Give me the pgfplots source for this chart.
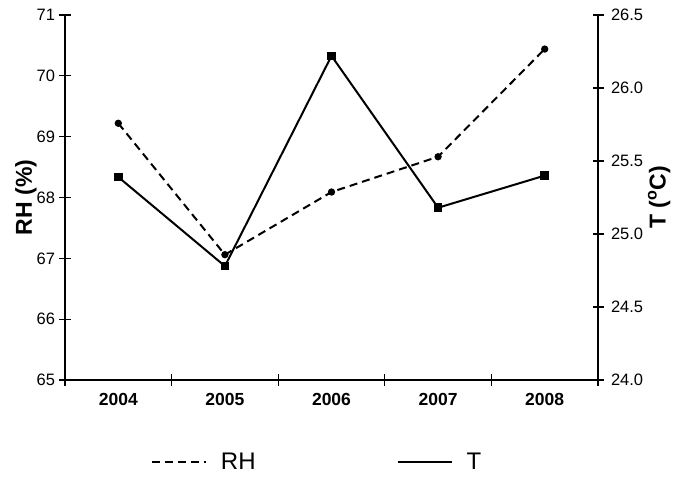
\documentclass[border=0pt]{standalone}
\usepackage{fontspec}
\setmainfont{Liberation Sans}
\usepackage{pgfplots}
\pgfplotsset{compat=1.18}
\usetikzlibrary{calc}
\pgfplotsset{common/.style={
  scale only axis, width=533pt, height=365pt,
  xmin=-0.5, xmax=4.5,
  axis line style={line width=2.2pt},
  tick style={line width=1.3pt, black},
  tick align=center, major tick length=11pt, minor tick length=11pt,
  /pgf/number format/assume math mode=true,
  tick label style={font=\fontsize{16.5}{19}\selectfont},
}}
\begin{document}
\begin{tikzpicture}
\begin{axis}[common,
  axis x line*=bottom, axis y line*=left,
  ymin=65, ymax=71, ytick={65,66,...,71},
  xtick={0,...,4}, xticklabels={2004,2005,2006,2007,2008},
  x tick label style={font=\bfseries\fontsize{17.5}{20}\selectfont, yshift=-4pt},
  y tick label style={xshift=-1pt},
  major x tick style={draw=none},
  minor xtick={-0.5,0.5,1.5,2.5,3.5,4.5},
  ylabel={\textbf{RH (\%)}},
  ylabel shift=-7pt,
  ylabel style={font=\bfseries\fontsize{23}{26}\selectfont},
]
\addplot[black, line width=2pt, dash pattern=on 8pt off 5pt, mark=*, mark size=2.6pt, mark options={solid}] coordinates {
 (0,69.22) (1,67.06) (2,68.09) (3,68.67) (4,70.44)};
\end{axis}
\begin{axis}[common,
  axis x line=none, axis y line*=right,
  ymin=24, ymax=26.5, ytick={24,24.5,...,26.5},
  yticklabel style={xshift=4pt, /pgf/number format/.cd, fixed, fixed zerofill, precision=1},
  ylabel={\textbf{T (\textsuperscript{o}C)}},
  ylabel shift=-2pt,
  ylabel style={font=\bfseries\fontsize{23}{26}\selectfont},
  legend style={at={(0.473,-0.225)}, anchor=center, draw=none, fill=none,
    legend columns=2, font=\fontsize{24}{28}\selectfont,
    /tikz/every odd column/.append style={column sep=12pt},
    /tikz/every even column/.append style={column sep=139pt}},
  legend image code/.code={\draw[#1, line width=2pt] (0pt,0pt) -- (54pt,0pt);},
]
\addlegendimage{black, dash pattern=on 8pt off 5pt}
\addlegendentry{RH}
\addlegendimage{black}
\addlegendentry{T}
\addplot[black, line width=2pt, mark=square*, mark size=3.3pt, forget plot] coordinates {
 (0,25.39) (1,24.78) (2,26.22) (3,25.18) (4,25.40)};
\coordinate (bl) at (rel axis cs:0,0);
\coordinate (tr) at (rel axis cs:1,1);
\end{axis}
\pgfresetboundingbox
\path[use as bounding box] ($(bl)+(-65pt,-101pt)$) rectangle ($(tr)+(75pt,15pt)$);
\end{tikzpicture}
\end{document}
